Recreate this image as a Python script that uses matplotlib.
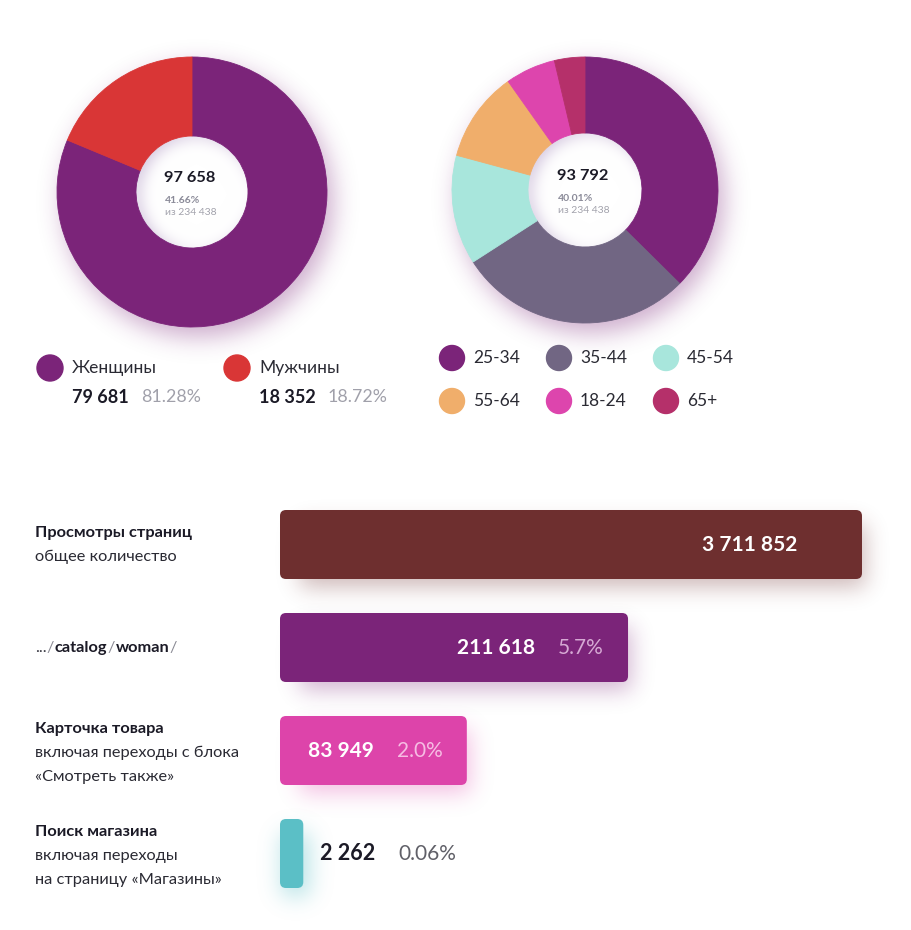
import numpy as np
import matplotlib
matplotlib.use('Agg')
import matplotlib.pyplot as plt
from matplotlib.colors import to_rgb
from matplotlib.patches import FancyBboxPatch, Circle

plt.rcParams['font.family'] = ['Lato', 'Noto Sans', 'DejaVu Sans']

W, H = 911, 930
DARK = '#1B1A26'
GREY = '#8E8E9A'

# --- data ---
gender_labels = ['Женщины', 'Мужчины']
gender_values = [79681, 18352]
gender_share = ['81.28%', '18.72%']
gender_colors = ['#7B2479', '#D93636']
gender_total = 97658
gender_pct = '41.66%'

age_labels = ['25-34', '35-44', '45-54', '55-64', '18-24', '65+']
age_share = [37.4, 28.5, 13.3, 11.0, 6.1, 3.7]
age_colors = ['#7B2479', '#716683', '#A8E6DC', '#F0AE6B', '#DD45AD', '#B5306A']
age_total = 93792
age_pct = '40.01%'

grand_total = 234438

funnel_titles = ['Просмотры страниц', None, 'Карточка товара', 'Поиск магазина']
funnel_notes = [['общее количество'], [],
                ['включая переходы с блока', '«Смотреть также»'],
                ['включая переходы', 'на страницу «Магазины»']]
funnel_values = [3711852, 211618, 83949, 2262]
funnel_share = [None, '5.7%', '2.0%', '0.06%']
funnel_length = [100, 59.8, 32.1, 4.0]   # drawn bar length, % of the longest
funnel_colors = ['#6E2F2F', '#7B2479', '#DD44AA', '#5BBFC6']


def fmt(v):
    return f'{v:,}'.replace(',', ' ')


def px_axes(fig, x0, y0, w, h):
    return fig.add_axes([x0 / W, 1 - (y0 + h) / H, w / W, h / H])


def blur(a, sigma):
    r = int(3 * sigma)
    k = np.exp(-0.5 * (np.arange(-r, r + 1) / sigma) ** 2)
    k /= k.sum()
    a = np.apply_along_axis(lambda m: np.convolve(m, k, mode='same'), 0, a)
    a = np.apply_along_axis(lambda m: np.convolve(m, k, mode='same'), 1, a)
    return a


def glow(bg, box, color, sigma, alpha, circle=False, dx=0, dy=0, z=1):
    x0, y0, x1, y1 = box
    pad = int(3 * sigma) + 4
    xs = np.arange(int(x0) - pad, int(x1) + pad)
    ys = np.arange(int(y0) - pad, int(y1) + pad)
    X, Y = np.meshgrid(xs + 0.5, ys + 0.5)
    if circle:
        cx, cy, r = (x0 + x1) / 2, (y0 + y1) / 2, (x1 - x0) / 2
        m = (((X - cx) ** 2 + (Y - cy) ** 2) <= r ** 2).astype(float)
    else:
        m = ((X >= x0) & (X <= x1) & (Y >= y0) & (Y <= y1)).astype(float)
    m = blur(m, sigma)
    rgba = np.zeros(m.shape + (4,))
    rgba[..., :3] = to_rgb(color)
    rgba[..., 3] = m * alpha
    bg.imshow(rgba, extent=(xs[0] + dx, xs[-1] + 1 + dx, ys[-1] + 1 + dy, ys[0] + dy),
              interpolation='bilinear', zorder=z)


def hole(bg, cx, cy, r, shade, strength):
    pad = 6
    xs = np.arange(int(cx - r) - pad, int(cx + r) + pad)
    ys = np.arange(int(cy - r) - pad, int(cy + r) + pad)
    X, Y = np.meshgrid(xs + 0.5, ys + 0.5)
    inside = (np.hypot(X - cx, Y - cy) <= r + 1.5).astype(float)
    outside = (np.hypot(X - cx - 5, Y - cy - 3) > r).astype(float)
    s = np.clip(blur(outside, 7) * strength, 0, 1)[..., None]
    rgba = np.ones(X.shape + (4,))
    rgba[..., :3] = (1 - s) * 1.0 + s * np.array(to_rgb(shade))
    rgba[..., 3] = inside
    bg.imshow(rgba, extent=(xs[0], xs[-1] + 1, ys[-1] + 1, ys[0]),
              interpolation='bilinear', zorder=3)


def run(bg, x, y, pieces):
    # place text pieces one after another on a line
    r = bg.figure.canvas.get_renderer()
    for text, kw, gap in pieces:
        t = bg.text(x, y, text, ha='left', va='center', **kw)
        bb = t.get_window_extent(renderer=r)
        x += bb.width + gap


fig = plt.figure(figsize=(W / 100, H / 100), dpi=100)
fig.patch.set_facecolor('white')

bg = fig.add_axes([0, 0, 1, 1])
bg.set_zorder(0)
bg.axis('off')
bg.set_xlim(0, W)
bg.set_ylim(H, 0)


def donut(cx, cy, R, r_in, values, colors, total, pct):
    ax = px_axes(fig, cx - R, cy - R, 2 * R, 2 * R)
    ax.set_zorder(2)
    ax.patch.set_visible(False)
    wedges, _ = ax.pie(values, colors=colors, startangle=90, counterclock=False,
                       radius=1, wedgeprops=dict(width=1 - r_in / R, linewidth=0.6))
    for w, c in zip(wedges, colors):
        w.set_edgecolor(c)
    ax.set_xlim(-1, 1)
    ax.set_ylim(-1, 1)
    ax.set_aspect('equal')
    ax.axis('off')
    glow(bg, (cx - R, cy - R, cx + R, cy + R), '#7B2479', 12, 0.38,
         circle=True, dx=6, dy=10)
    hole(bg, cx, cy, r_in, '#C7B6D5', 0.75)
    tx = cx - 27
    bg.text(tx - 1, cy - 14, fmt(total), ha='left', va='center', fontsize=11.8,
            fontweight='bold', color=DARK, zorder=5)
    bg.text(tx, cy + 8, pct, ha='left', va='center', fontsize=7.5,
            fontweight='bold', color='#8A8A98', zorder=5)
    bg.text(tx, cy + 20, 'из ' + fmt(grand_total), ha='left', va='center',
            fontsize=7.5, color='#A2A2AC', zorder=5)


donut(192, 192, 135, 56, gender_values, gender_colors, gender_total, gender_pct)
donut(585, 190, 133, 57, age_share, age_colors, age_total, age_pct)

# gender legend
for i, (lab, val, sh, col) in enumerate(zip(gender_labels, gender_values,
                                            gender_share, gender_colors)):
    x = 50 + i * 187
    bg.add_patch(Circle((x, 368), 13, color=col, zorder=4))
    bg.text(x + 22, 368, lab, ha='left', va='center', fontsize=12.5,
            color='#2A2A33', zorder=4)
    run(bg, x + 22, 397, [(fmt(val), dict(fontsize=13, fontweight='bold',
                                          color=DARK, zorder=4), 12),
                          (sh, dict(fontsize=12.8, color='#A0A0AA', zorder=4), 0)])

# age legend
for i, (lab, col) in enumerate(zip(age_labels, age_colors)):
    x = 452 + (i % 3) * 107
    y = 358 + (i // 3) * 43
    bg.add_patch(Circle((x, y), 12.5, color=col, zorder=4))
    bg.text(x + 21, y, lab, ha='left', va='center', fontsize=12.5,
            color='#2A2A33', zorder=4)

# funnel bars
ax = px_axes(fig, 280, 493, 582, 412)
ax.set_zorder(2)
ax.patch.set_visible(False)
ax.set_xlim(0, 100)
ax.set_ylim(3.5, -0.5)
ax.axis('off')
bar_h = 69 / 103
xu = 100 / 582   # data units per pixel, x
yu = 1 / 103     # data units per pixel, y
for i, (L, col) in enumerate(zip(funnel_length, funnel_colors)):
    p = FancyBboxPatch((0, i - bar_h / 2), L, bar_h,
                       boxstyle=f'round,pad=0,rounding_size={6 * xu}',
                       mutation_aspect=yu / xu, facecolor=col, edgecolor='none',
                       zorder=3, clip_on=False)
    ax.add_patch(p)

# shadows under bars, drawn in pixel space from the bar geometry
fig.canvas.draw()
for i, (L, col) in enumerate(zip(funnel_length, funnel_colors)):
    (x0, yb), (x1, yt) = ax.transData.transform([(0, i + bar_h / 2), (L, i - bar_h / 2)])
    y0, y1 = H - yt, H - yb
    if L < 10:
        glow(bg, (x0 + 2, y0 + 14, x1 + 6, y1 + 8), col, 11, 0.45)
    else:
        glow(bg, (x0 + 20, y0 + 14, x1 + 3, y1 + 8), col, 11, 0.34)

# labels inside / next to bars
for i, (v, sh, L) in enumerate(zip(funnel_values, funnel_share, funnel_length)):
    if L < 10:
        ax.annotate(fmt(v), (L, i), xytext=(17, 0), textcoords='offset pixels',
                    ha='left', va='center', fontsize=15.5, fontweight='bold',
                    color=DARK, zorder=5)
        ax.annotate(sh, (L, i), xytext=(95, 0), textcoords='offset pixels',
                    ha='left', va='center', fontsize=15, color='#606068',
                    zorder=5)
    elif sh is None:
        ax.annotate(fmt(v), (L, i), xytext=(-65, 0), textcoords='offset pixels',
                    ha='right', va='center', fontsize=15, fontweight='bold',
                    color='white', zorder=5)
    else:
        light = '#D6A9D4' if i == 1 else '#F6BCE3'
        ax.annotate(sh, (L, i), xytext=(-24, 0), textcoords='offset pixels',
                    ha='right', va='center', fontsize=15, color=light, zorder=5)
        ax.annotate(fmt(v), (L, i), xytext=(-93, 0), textcoords='offset pixels',
                    ha='right', va='center', fontsize=15, fontweight='bold',
                    color='white', zorder=5)

# category captions on the left
for i, (title, notes) in enumerate(zip(funnel_titles, funnel_notes)):
    yc = H - ax.transData.transform((0, i))[1]
    if title is None:
        run(bg, 35, yc, [('...', dict(fontsize=11.8, color='#3A3A44'), 0),
                         ('/', dict(fontsize=11.8, color='#8A8A94'), 0.5),
                         ('catalog', dict(fontsize=11.8, fontweight='bold', color=DARK), 0.5),
                         ('/', dict(fontsize=11.8, color='#8A8A94'), 0.5),
                         ('woman', dict(fontsize=11.8, fontweight='bold', color=DARK), 0.5),
                         ('/', dict(fontsize=11.8, color='#8A8A94'), 0)])
        continue
    lines = [title] + notes
    top = yc - 12 if len(lines) == 2 else yc - 22
    for k, line in enumerate(lines):
        bg.text(35, top + k * 24, line, ha='left', va='center', fontsize=11.8,
                fontweight='bold' if k == 0 else 'normal',
                color=DARK if k == 0 else '#2A2A33', zorder=4)

bg.set_xlim(0, W)
bg.set_ylim(H, 0)
bg.set_aspect('auto')

fig.savefig('out.png', dpi=100, facecolor='white')
